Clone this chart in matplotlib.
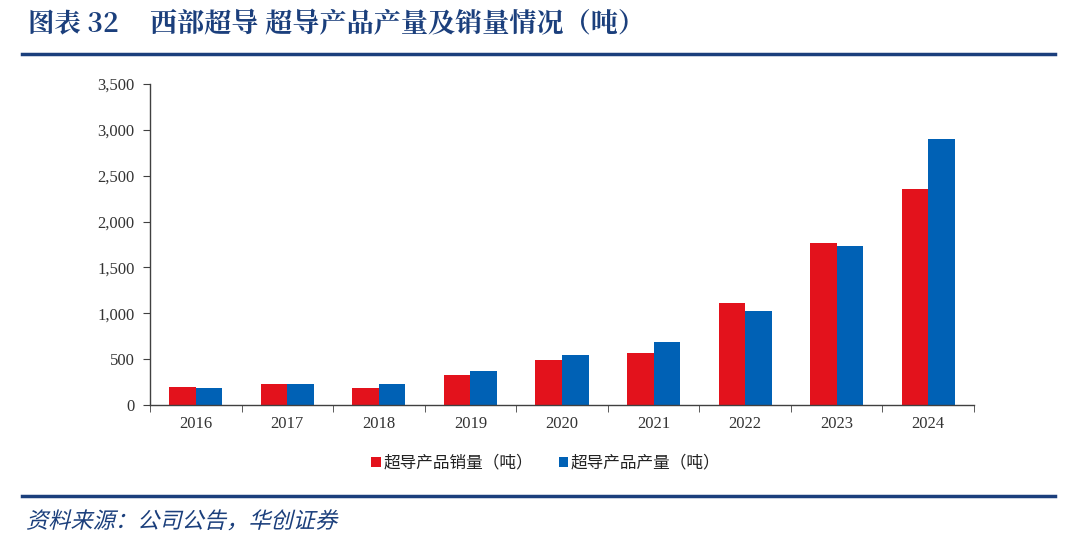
import matplotlib.pyplot as plt
import numpy as np
from matplotlib.ticker import FuncFormatter
from matplotlib.textpath import TextPath
from matplotlib.patches import PathPatch
from matplotlib.font_manager import FontProperties
from matplotlib.transforms import Affine2D

plt.rcParams['font.family'] = ['Noto Sans CJK SC', 'DejaVu Sans']

# 数据
years = ['2016', '2017', '2018', '2019', '2020', '2021', '2022', '2023', '2024']
sales = [193, 232, 182, 327, 493, 565, 1112, 1767, 2355]
production = [181, 232, 232, 370, 550, 689, 1027, 1731, 2900]

title_no = '图表 32'
title_text = '西部超导 超导产品产量及销量情况（吨）'
source_text = '资料来源：公司公告，华创证券'
label_sales = '超导产品销量（吨）'
label_prod = '超导产品产量（吨）'

red = '#E3121C'
blue = '#0061B5'
navy = '#1B3F7C'

W, H = 1080, 548
fig = plt.figure(figsize=(W / 100, H / 100), dpi=100)
ax = fig.add_axes([150 / W, 1 - 405 / H, (974 - 150) / W, (405 - 84) / H])

x = np.arange(len(years))
w = 0.29
ax.bar(x - w / 2, sales, w, color=red, label=label_sales)
ax.bar(x + w / 2, production, w, color=blue, label=label_prod)

ax.set_xlim(-0.5, len(years) - 0.5)
ax.set_ylim(0, 3500)
ax.set_yticks(np.arange(0, 3501, 500))
ax.yaxis.set_major_formatter(FuncFormatter(lambda v, p: f'{int(v):,}'))
ax.set_xticks(x)
ax.set_xticklabels(years)
ax.set_xticks(np.arange(-0.5, len(years), 1), minor=True)
ax.tick_params(axis='x', which='major', length=0, pad=8)
ax.tick_params(axis='x', which='minor', length=5, direction='out', color='#404040')
ax.tick_params(axis='y', length=5, direction='out', color='#404040', pad=6)
for lab in ax.get_xticklabels() + ax.get_yticklabels():
    lab.set_family('Liberation Serif')
    lab.set_fontsize(12)
    lab.set_color('#333333')

for s in ['top', 'right']:
    ax.spines[s].set_visible(False)
for s in ['left', 'bottom']:
    ax.spines[s].set_color('#404040')
    ax.spines[s].set_linewidth(1.0)

# 图例
h, l = ax.get_legend_handles_labels()
leg = fig.legend(h, l, loc='center', bbox_to_anchor=(546 / W, 1 - 463 / H), ncol=2, frameon=False,
                 handlelength=0.55, handleheight=0.55, handletextpad=0.2, columnspacing=1.5,
                 prop={'size': 12})
for t in leg.get_texts():
    t.set_color('#222222')

# 标题和分隔线
title_font = ['Noto Serif CJK SC', 'Noto Sans CJK SC', 'DejaVu Sans']
fig.text(28 / W, 1 - 25 / H, title_no, fontsize=19, fontweight='bold', color=navy,
         ha='left', va='center', family=title_font)
fig.text(150 / W, 1 - 25 / H, title_text, fontsize=19.5, fontweight='bold', color=navy,
         ha='left', va='center', family=title_font)
fig.add_artist(plt.Line2D([22 / W, 1055 / W], [1 - 54 / H, 1 - 54 / H],
                          color=navy, linewidth=2.5))
fig.add_artist(plt.Line2D([22 / W, 1055 / W], [1 - 496 / H, 1 - 496 / H],
                          color=navy, linewidth=2.5))

# 资料来源（斜体）
fp = FontProperties(family='Noto Sans CJK SC', size=16)
tp = TextPath((0, 0), source_text, prop=fp)
tr = Affine2D().skew_deg(14, 0).scale(100 / 72).translate(26, H - 528)
fig.add_artist(PathPatch(tp, transform=tr, color=navy, lw=0))

plt.savefig('out.png', dpi=100)
